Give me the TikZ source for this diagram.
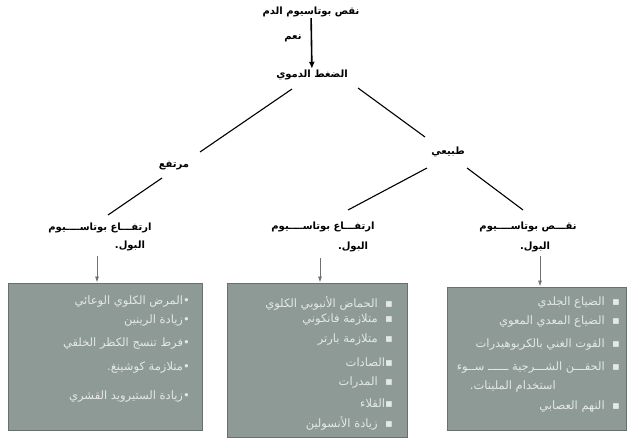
\documentclass[tikz,border=0pt]{standalone}
\usepackage{fontspec}
\usetikzlibrary{arrows.meta}
\TeXXeTstate=1
\newfontfamily\arabicfont[Script=Arabic]{DejaVu Sans}
\newfontfamily\arabicbold[Script=Arabic]{DejaVu Sans Bold}
\definecolor{boxfill}{HTML}{8E9A95}
\definecolor{boxline}{HTML}{6A716D}
\definecolor{boxtext}{HTML}{E4E8E6}
\definecolor{arrgray}{HTML}{707070}
\newcommand{\ar}[1]{\beginR #1\endR}
\begin{document}
\begin{tikzpicture}[x=1pt,y=-1pt,
  head/.style={font=\arabicbold\fontsize{10}{12}\selectfont, inner sep=1pt},
  conn/.style={line width=1.1pt},
  garrow/.style={draw=arrgray, line width=0.8pt, -{Latex[length=6pt,width=4pt]}},
  panel/.style={draw=boxline, line width=1pt, fill=boxfill, inner sep=0pt},
  item/.style={font=\arabicfont\fontsize{11.5}{13}\selectfont, text=boxtext, anchor=east, inner sep=0pt}
]
\useasboundingbox (0,0) rectangle (628,439);
\fill[white] (0,0) rectangle (628,439);

% top part
\node[head] (top) at (311,12) {\ar{نقص بوتاسيوم الدم}};
\node[head] (bp) at (312,75) {\ar{الضغط الدموي}};
\node[head] (yes) at (293,38) {\ar{نعم}};
\draw[line width=1.6pt, -{Latex[length=7pt,width=6pt]}] (top) -- (bp);

\node[head] (high) at (174,166) {\ar{مرتفع}};
\node[head] (normal) at (448,152) {\ar{طبيعي}};

\draw[conn] ([shift={(-20,14)}]bp.center) -- ([shift={(26,-14)}]high.center);
\draw[conn] ([shift={(46,13)}]bp.center) -- ([shift={(-23,-15)}]normal.center);

% labels
\node[head] (lab1a) at (100,228) {\ar{ارتفـــاع بوتاســــيوم}};
\node[head] (lab1b) at (130,246) {\ar{البول.}};
\node[head] (lab2a) at (323,227) {\ar{ارتفـــاع بوتاســــيوم}};
\node[head] (lab2b) at (353,247) {\ar{البول.}};
\node[head] (lab3a) at (528,227) {\ar{نقـــص بوتاســــيوم}};
\node[head] (lab3b) at (535,247) {\ar{البول.}};

\draw[conn] ([shift={(-12,12)}]high.center) -- ([shift={(8,-13)}]lab1a.center);
\draw[conn] ([shift={(-21,16)}]normal.center) -- ([shift={(25,-17)}]lab2a.center);
\draw[conn] ([shift={(19,16)}]normal.center) -- ([shift={(-5,-17)}]lab3a.center);

% panels
\node[panel, minimum width=194pt, minimum height=147pt] (box1) at (105,356.5) {};
\node[panel, minimum width=180pt, minimum height=154pt] (box2) at (317,360) {};
\node[panel, minimum width=179pt, minimum height=143pt] (box3) at (536.5,358.5) {};

\coordinate (a1) at (97,256);
\coordinate (a2) at (320,258);
\coordinate (a3) at (540,256);
\draw[garrow] (a1) -- (a1 |- box1.north);
\draw[garrow] (a2) -- (a2 |- box2.north);
\draw[garrow] (a3) -- (a3 |- box3.north);

% left panel items
\node[item] (l1) at (190,302) {\ar{•المرض الكلوي الوعائي}};
\node[item] (l2) at (190,321) {\ar{•زيادة الرينين}};
\node[item] (l3) at (190,344) {\ar{•فرط تنسج الكظر الخلقي}};
\node[item] (l4) at (190,368) {\ar{•متلازمة كوشينغ.}};
\node[item] (l5) at (190,397) {\ar{•زيادة الستيرويد القشري}};

% middle panel items
\node[item] (m1) at (393,303) {\ar{▪~ الحماض الأنبوبي الكلوي}};
\node[item] (m2) at (393,320) {\ar{▪~ متلازمة فانكوني}};
\node[item] (m3) at (393,340) {\ar{▪~ متلازمة بارتر}};
\node[item] (m4) at (393,362) {\ar{▪الصادات}};
\node[item] (m5) at (393,383) {\ar{▪~ المدرات}};
\node[item] (m6) at (393,403) {\ar{▪القلاء}};
\node[item] (m7) at (393,423) {\ar{▪~ زيادة الأنسولين}};

% right panel items
\node[item] (r1) at (620,303) {\ar{▪~ الضياع الجلدي}};
\node[item] (r2) at (620,322) {\ar{▪~ الضياع المعدي المعوي}};
\node[item] (r3) at (620,345) {\ar{▪~ القوت الغني بالكربوهيدرات}};
\node[item] (r4) at (620,368) {\ar{▪~ الحقـــن الشـــرجية ــــــ ســوء}};
\node[item] (r5) at (556,387) {\ar{استخدام الملينات.}};
\node[item] (r6) at (620,407) {\ar{▪~ النهم العصابي}};
\end{tikzpicture}
\end{document}
